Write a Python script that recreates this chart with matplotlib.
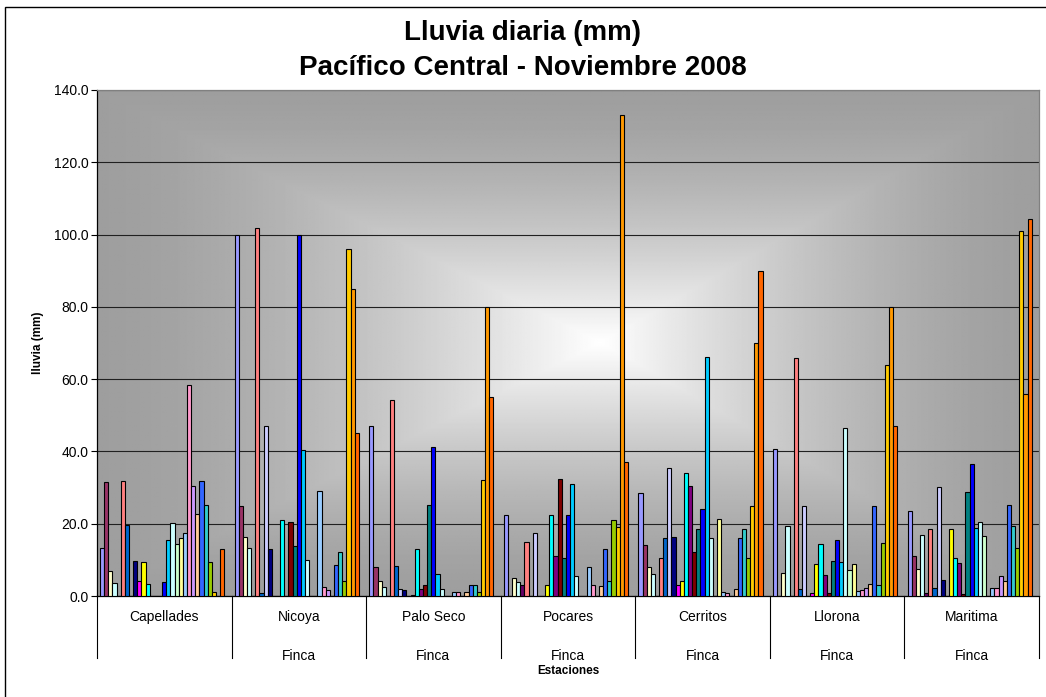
import matplotlib
matplotlib.use("Agg")
import matplotlib.pyplot as plt
import matplotlib.transforms as mtransforms
from matplotlib.patches import Rectangle
import numpy as np

plt.rcParams['font.family'] = ['Liberation Sans', 'DejaVu Sans']

# Data: daily rain (mm), days 1..30 of November 2008, per station
stations = ["Capellades", "Nicoya", "Palo Seco", "Pocares", "Cerritos", "Llorona", "Maritima"]
second_row = ["", "Finca", "Finca", "Finca", "Finca", "Finca", "Finca"]

capellades = [13.2, 31.5, 6.9, 3.6, 0, 31.8, 19.6, 0, 9.8, 4.2, 9.4, 3.2, 0, 0, 0,
              3.8, 15.6, 20.2, 14.3, 16.0, 17.4, 58.3, 30.3, 22.6, 31.7, 25.1, 9.4, 1.0, 0, 12.9]
nicoya = [100.0, 25.0, 16.4, 13.4, 0, 101.8, 0.8, 46.9, 12.9, 0, 0, 21.0, 0, 20.4, 13.9,
          100.0, 40.5, 10.0, 0, 0, 29.0, 2.4, 1.6, 0, 8.5, 12.3, 4.1, 96.1, 85.0, 45.0]
palo_seco = [46.9, 8.0, 4.1, 2.4, 0, 54.2, 8.2, 2.0, 1.7, 0, 0.3, 13.0, 2.0, 3.0, 25.1,
             41.3, 6.2, 2.0, 0, 0, 1.0, 1.0, 0, 1.0, 3.0, 3.1, 1.2, 32.0, 80.0, 55.0]
pocares = [22.5, 0, 4.9, 3.8, 3.0, 15.0, 0, 17.5, 0, 0, 3.0, 22.5, 11.0, 32.5, 10.4,
           22.5, 31.0, 5.6, 0, 0, 8.0, 3.0, 0, 2.8, 13.0, 4.2, 21.0, 19.0, 133.0, 37.0]
cerritos = [28.4, 14.1, 8.0, 6.0, 0, 10.4, 16.0, 35.4, 16.3, 3.0, 4.2, 34.0, 30.5, 12.1, 18.5,
            24.2, 66.0, 16.0, 0, 21.3, 1.0, 0.7, 0, 2.0, 16.0, 18.5, 10.6, 25.0, 70.0, 90.0]
llorona = [40.8, 0, 6.5, 19.5, 0, 65.8, 1.8, 24.8, 0, 0.7, 8.9, 14.5, 5.8, 0.7, 9.8,
           15.4, 9.3, 46.6, 7.2, 8.8, 1.5, 1.7, 2.2, 3.4, 25.0, 3.1, 14.8, 63.8, 80.0, 47.0]
maritima = [23.4, 11.2, 7.5, 17.0, 0.7, 18.4, 2.3, 30.2, 4.3, 0, 18.6, 10.6, 9.0, 0.5, 28.7,
            36.6, 18.9, 20.4, 16.6, 0, 2.3, 2.1, 5.5, 4.2, 25.1, 19.4, 13.4, 101.0, 56.0, 104.3]

# Excel 2003 default series colours (one per day)
day_colors = ["#9999FF", "#993366", "#FFFFCC", "#CCFFFF", "#660066", "#FF8080", "#0066CC",
              "#CCCCFF", "#000080", "#FF00FF", "#FFFF00", "#00FFFF", "#800080", "#800000",
              "#008080", "#0000FF", "#00CCFF", "#CCFFFF", "#CCFFCC", "#FFFF99", "#99CCFF",
              "#FF99CC", "#CC99FF", "#FFCC99", "#3366FF", "#33CCCC", "#99CC00", "#FFCC00",
              "#FF9900", "#FF6600"]

rain = np.array([capellades, nicoya, palo_seco, pocares, cerritos, llorona, maritima])
n_st, n_days = rain.shape

fig = plt.figure(figsize=(10.46, 6.97), dpi=100)
ax = fig.add_axes([0.0927, 0.1449, 0.9006, 0.7260])

# gradient plot background (light centre, grey edges)
gx, gy = np.meshgrid(np.linspace(0, 1, 600), np.linspace(0, 1, 400))
cx, cy = 0.534, 0.5
d = np.maximum(np.abs(gx - cx) / np.where(gx < cx, cx, 1 - cx), np.abs(gy - cy) / 0.5)
grey = 0.62 + 0.38 * np.clip(1 - d, 0, 1) ** 1.5
ax.imshow(grey, cmap="gray", vmin=0, vmax=1, extent=[0, 1, 0, 1], origin="lower",
          transform=ax.transAxes, aspect="auto", zorder=0)

# 31 slots per group (day 31 empty) with 150% gap width
slot = 1 / 32.5
groups = np.arange(n_st)
for k in range(n_days):
    ax.bar(groups + (0.75 + k + 0.5) * slot, rain[:, k], width=slot, color=day_colors[k],
           edgecolor="black", linewidth=0.8, zorder=3)

ax.set_xlim(0, n_st)
ax.set_ylim(0, 140)
ax.set_yticks(np.arange(0, 141, 20))
ax.set_yticklabels([f"{v:.1f}" for v in np.arange(0, 141, 20)], fontsize=10)
ax.yaxis.grid(True, color="#202020", linewidth=0.8, zorder=1)
ax.set_axisbelow(True)
ax.set_xticks([])
ax.tick_params(axis="y", length=4, width=0.8, pad=2)
for side in ["left", "bottom"]:
    ax.spines[side].set_color("black")
    ax.spines[side].set_linewidth(0.9)
for side in ["top", "right"]:
    ax.spines[side].set_color("#808080")
    ax.spines[side].set_linewidth(0.9)

# two-level category axis
trans = mtransforms.blended_transform_factory(ax.transData, ax.transAxes)
for g in range(n_st + 1):
    ax.plot([g, g], [0, -0.1225], color="black", linewidth=0.8, transform=trans, clip_on=False)
for g in range(n_st):
    ax.text(g + 0.5, -0.0415, stations[g], ha="center", va="center", fontsize=10, transform=trans)
    ax.text(g + 0.5, -0.1186, second_row[g], ha="center", va="center", fontsize=10, transform=trans)
ax.text(0.5, -0.148, "Estaciones", ha="center", va="center", fontsize=8.5,
        fontweight="bold", transform=ax.transAxes)

fig.text(38 / 1046, 1 - 343 / 697, "lluvia (mm)", rotation=90, ha="center", va="center",
         fontsize=8.5, fontweight="bold")
fig.text(0.5, 1 - 33 / 697, "Lluvia diaria (mm)", ha="center", va="center",
         fontsize=20, fontweight="bold")
fig.text(0.5, 1 - 68 / 697, "Pacífico Central - Noviembre 2008", ha="center", va="center",
         fontsize=20, fontweight="bold")

# chart frame (left and top visible)
fig.patches.append(Rectangle((5 / 1046, -0.1), 2, 1.1 - 7 / 697, fill=False, edgecolor="black",
                             linewidth=1, transform=fig.transFigure, figure=fig))

fig.savefig("out.png", dpi=100, facecolor="white")
